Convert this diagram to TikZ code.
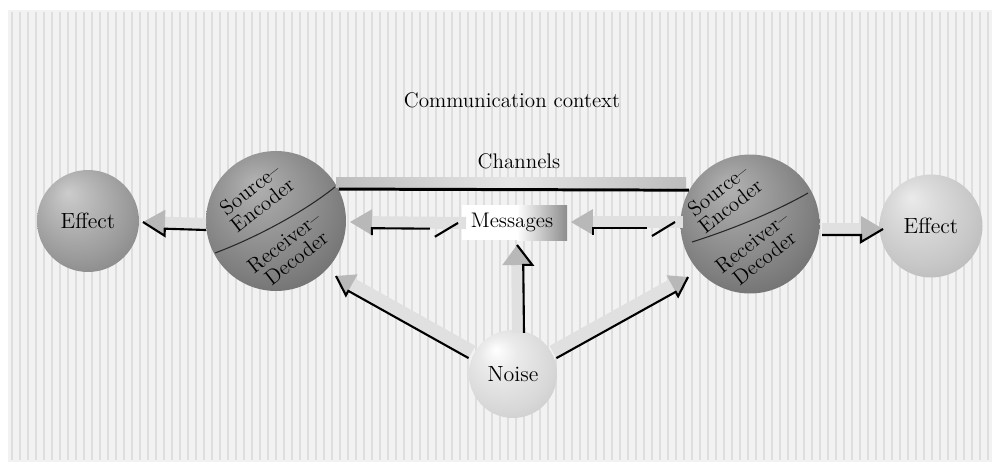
\documentclass[tikz,border=0pt]{standalone}
\usepackage{fontspec}
\usetikzlibrary{calc,shadings}
\pgfdeclareradialshading{sphdark}{\pgfpoint{-8bp}{14bp}}{color(0bp)=(black!30); color(10bp)=(black!38); color(26bp)=(black!50); color(40bp)=(black!62); color(50bp)=(black!74)}
\pgfdeclareradialshading{sphmid}{\pgfpoint{-10bp}{14bp}}{color(0bp)=(black!20); color(10bp)=(black!28); color(26bp)=(black!40); color(40bp)=(black!52); color(50bp)=(black!62)}
\pgfdeclareradialshading{sphlight}{\pgfpoint{-10bp}{14bp}}{color(0bp)=(black!8); color(10bp)=(black!14); color(26bp)=(black!22); color(40bp)=(black!31); color(50bp)=(black!40)}
\pgfdeclareradialshading{sphpale}{\pgfpoint{-10bp}{14bp}}{color(0bp)=(white); color(10bp)=(black!8); color(26bp)=(black!15); color(40bp)=(black!23); color(50bp)=(black!31)}
\tikzset{
  lbl/.style={font=\fontsize{12}{13}\selectfont, inner sep=1pt},
  sph/.style={circle, inner sep=0pt, font=\fontsize{12.5}{13}\selectfont},
  sphtxt/.style={font=\fontsize{12}{11.5}\selectfont, align=center, rotate=38, inner sep=0pt},
  blackedge/.style={line width=1.2pt, black},
  arrowbody/.style={fill=black!12},
  arrowhead/.style={fill=black!28},
}
\makeatletter
\newcommand\fatarrow[7]{%
  \pgfmathanglebetweenpoints{\pgfpointanchor{#1}{center}}{\pgfpointanchor{#2}{center}}%
  \edef\faang{\pgfmathresult}%
  \pgfpointdiff{\pgfpointanchor{#1}{center}}{\pgfpointanchor{#2}{center}}%
  \edef\fadx{\the\pgf@x}\edef\fady{\the\pgf@y}%
  \pgfmathsetmacro\falen{veclen(\fadx,\fady)/0.5690551}%
  \pgfmathsetmacro\fab{\falen-#6}%
  \begin{scope}[shift={(#1)}, rotate=\faang]
    \path[arrowbody] (0,-#4) rectangle (\fab,#4);
    \path[arrowhead] (\fab,-#5) -- (\falen,0) -- (\fab,#5) -- cycle;
    \ifnum#7=1
      \draw[blackedge] (36,#3*#4) -- (\fab,#3*#4) -- (\fab,#3*#5);
      \draw[blackedge] (8,0) -- (31,#3*#4+#3*8);
    \else
      \draw[blackedge] (0,#3*#4) -- (\fab,#3*#4) -- (\fab,#3*#5) -- (\falen,0);
    \fi
  \end{scope}}
\makeatother
\begin{document}
\begin{tikzpicture}[x=0.02cm, y=0.02cm]
\useasboundingbox (0,0) rectangle (996,-466);
% background
\fill[black!5] (8,-10) rectangle (992,-462);
\foreach \i in {12,20,...,988} \draw[black!13, line width=0.8pt] (\i,-12) -- (\i,-460);

% texts
\node[lbl] (ctx) at (512,-100) {Communication context};
\node[lbl] (chan) at (519,-161) {Channels};

% messages box
\fill[white] (462,-205) rectangle (517,-240);
\shade[left color=white, right color=black!45] (517,-205) rectangle (567,-240);
\node[lbl] (msg) at (512,-222) {Messages};

% spheres
\node[sph, shading=sphmid, minimum size=2.04cm] (eff1) at (88,-221) {Effect};
\node[sph, shading=sphdark, minimum size=2.8cm] (sr1) at (276,-221) {};
\node[sph, shading=sphdark, minimum size=2.78cm] (sr2) at (750,-224) {};
\node[sph, shading=sphlight, minimum size=2.06cm] (eff2) at (931,-226) {Effect};
\node[sph, shading=sphpale, minimum size=1.76cm] (noise) at (513,-374) {Noise};

% sphere dividers and labels
\draw[black!85, line width=0.6pt] ($(sr1)+(-61,-32)$) .. controls ($(sr1)+(-26,-19)$) and ($(sr1)+(24,6)$) .. ($(sr1)+(59,34)$);
\draw[black!85, line width=0.6pt] ($(sr2)+(-58,-18)$) .. controls ($(sr2)+(-20,-6)$) and ($(sr2)+(25,12)$) .. ($(sr2)+(58,31)$);
\node[sphtxt] (src1) at ($(sr1)+(-20,24)$) {Source\textendash\\Encoder};
\node[sphtxt] (rcv1) at ($(sr1)+(14,-29)$) {Receiver\textendash\\Decoder};
\node[sphtxt] (src2) at ($(sr2)+(-26,26)$) {Source\textendash\\Encoder};
\node[sphtxt] (rcv2) at ($(sr2)+(8,-26)$) {Receiver\textendash\\Decoder};

% channel
\shade[left color=black!26, right color=black!26, middle color=black!10] ($(sr1)+(60,44)$) rectangle ($(sr2)+(-64,37)$);
\draw[line width=1.7pt] (sr1.27) -- (sr2.151);

% arrow end points
\coordinate (a1s) at ($(sr1)+(-70,-3)$);
\coordinate (a1e) at ($(eff1)+(55,-1)$);
\coordinate (a2s) at ($(msg)+(-46,-1)$);
\coordinate (a2e) at ($(sr1)+(74,-1)$);
\coordinate (a3s) at ($(sr2)+(-67,2)$);
\coordinate (a3e) at ($(msg)+(59,0)$);
\coordinate (a4s) at ($(sr2)+(72,-5)$);
\coordinate (a4e) at ($(eff2)+(-48,-3)$);
\coordinate (a5s) at ($(noise)+(5,41)$);
\coordinate (a5e) at ($(msg)+(5,-23)$);
\coordinate (a6s) at ($(noise)+(-41,22)$);
\coordinate (a6e) at ($(sr1)+(60,-55)$);
\coordinate (a7s) at ($(noise)+(40,22)$);
\coordinate (a7e) at ($(sr2)+(-62,-53)$);

% arrows: start, end, black side, shaft half-width, head half-width, head length, tail dash
\fatarrow{a1s}{a1e}{1}{6}{13}{22}{0}
\fatarrow{a2s}{a2e}{1}{6}{13}{22}{1}
\fatarrow{a3s}{a3e}{1}{6}{13}{22}{1}
\fatarrow{a4s}{a4e}{-1}{6}{13}{22}{0}
\fatarrow{a5s}{a5e}{-1}{6}{15}{20}{0}
\fatarrow{a6s}{a6e}{1}{7}{12}{18}{0}
\fatarrow{a7s}{a7e}{-1}{7}{12}{18}{0}
\end{tikzpicture}
\end{document}
